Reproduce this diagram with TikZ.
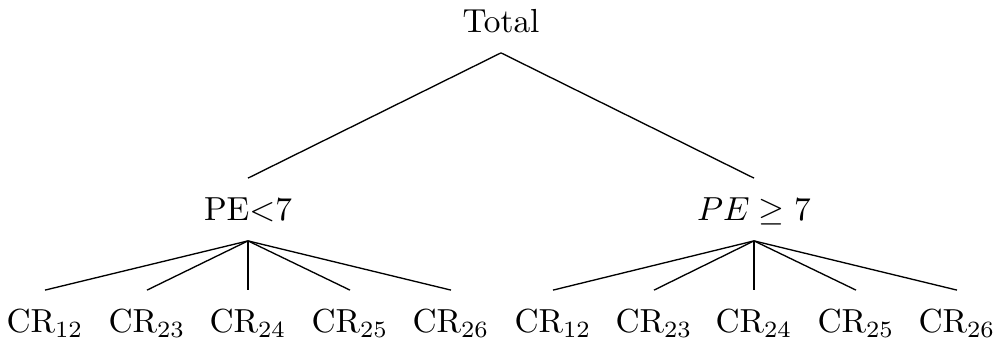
\documentclass[tikz,border=0pt]{standalone}
\usepackage{amsmath,amssymb}
\usepackage{tikz}
\usetikzlibrary{positioning}

\begin{document}
\begin{tikzpicture}[
  x=0.3pt, y=-0.3pt,
  lvl/.style={inner xsep=2pt, inner ysep=5.8pt, text height=6.83pt, text depth=0pt},
  edge/.style={draw, line width=0.4pt}
]
\useasboundingbox (0,0) rectangle (994,339);
\node[lvl] (total) at (501,21.5) {Total};
\node[lvl] (low) at (248,209.5) {PE$<$7};
\node[lvl] (high) at (754,209.5) {$PE \geq 7$};
\draw[edge] (total.south) -- (low.north);
\draw[edge] (total.south) -- (high.north);
% leaves under each branch
\foreach \idx/\x/\sub/\up in {1/45/12/low, 2/147/23/low, 3/248/24/low, 4/350/25/low, 5/451/26/low,
  6/553/12/high, 7/654/23/high, 8/754/24/high, 9/856/25/high, 10/957/26/high} {
  \node[lvl] (cr\idx) at (\x,321.5) {CR$_{\sub}$};
  \draw[edge] (\up.south) -- (cr\idx.north);
}
\end{tikzpicture}
\end{document}
